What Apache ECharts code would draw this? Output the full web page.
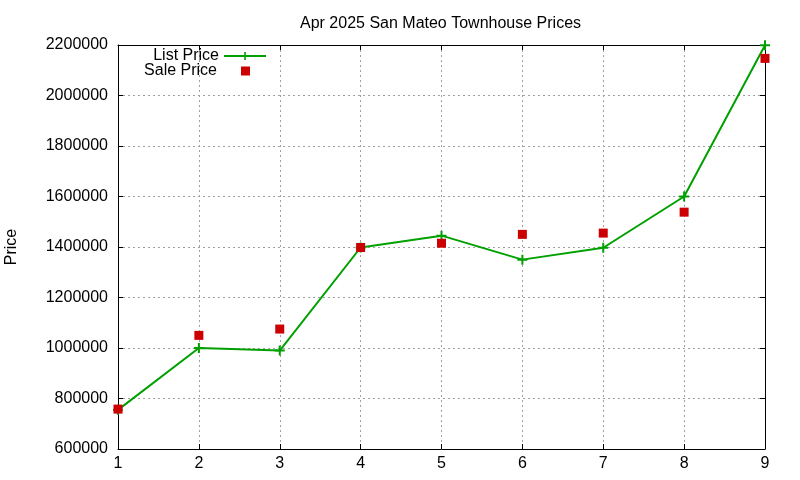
<!DOCTYPE html>
<html>
<head>
<meta charset="utf-8">
<script src="https://cdn.jsdelivr.net/npm/echarts@6/dist/echarts.min.js"></script>
<style>
  html, body { margin: 0; padding: 0; background: #fff; }
  #chart { width: 800px; height: 480px; }
</style>
</head>
<body>
<div id="chart"></div>
<script>
  // data
  var months = [1, 2, 3, 4, 5, 6, 7, 8, 9];
  var listPrice = [755000, 1000000, 990000, 1398000, 1445000, 1350000, 1397000, 1600000, 2199000];
  var salePrice = [758000, 1050000, 1075000, 1398000, 1415000, 1450000, 1455000, 1538000, 2147000];

  var font = 'Liberation Sans';
  var plusIcon = 'path://M4,0H6V4H10V6H6V10H4V6H0V4H4Z';

  function pairs(xs, ys) {
    return xs.map(function (x, i) { return [x, ys[i]]; });
  }

  var chart = echarts.init(document.getElementById('chart'));

  var axisBase = {
    type: 'value',
    axisLine: { show: true, onZero: false, lineStyle: { color: '#000', width: 1 } },
    axisTick: { show: true, inside: true, length: 5, lineStyle: { color: '#000' } }
  };

  var option = {
    animation: false,
    backgroundColor: '#fff',
    textStyle: { fontFamily: font },
    title: {
      text: 'Apr 2025 San Mateo Townhouse Prices',
      left: 295,
      top: 11,
      textStyle: { fontFamily: font, fontSize: 16, fontWeight: 'normal', color: '#000' }
    },
    legend: [{
      data: ['List Price'],
      orient: 'vertical',
      align: 'right',
      right: 533,
      top: 48,
      padding: 0,
      itemWidth: 42,
      itemHeight: 10,
      textStyle: { fontFamily: font, fontSize: 16, color: '#000', lineHeight: 16 }
    }, {
      data: [{ name: 'Sale Price', icon: 'rect' }],
      orient: 'vertical',
      align: 'right',
      right: 550,
      top: 63,
      padding: 0,
      itemWidth: 9,
      itemHeight: 9,
      textStyle: { fontFamily: font, fontSize: 16, color: '#000', lineHeight: 16, padding: [0, 19, 0, 0] }
    }],
    grid: { left: 118, top: 45, width: 647, height: 404, outerBoundsMode: 'none' },
    xAxis: [
      Object.assign({}, axisBase, {
        position: 'bottom',
        min: 1, max: 9, interval: 1,
        axisLabel: { fontFamily: font, fontSize: 16, color: '#000', margin: 7 },
        splitLine: { show: true, lineStyle: { color: '#a0a0a0', type: [2, 3], width: 1 } }
      }),
      Object.assign({}, axisBase, {
        position: 'top',
        min: 1, max: 9, interval: 1,
        axisLabel: { show: false },
        splitLine: { show: false }
      })
    ],
    yAxis: [
      Object.assign({}, axisBase, {
        position: 'left',
        min: 600000, max: 2200000, interval: 200000,
        name: 'Price',
        nameLocation: 'middle',
        nameGap: 98,
        nameRotate: 90,
        nameTextStyle: { fontFamily: font, fontSize: 16, color: '#000' },
        axisLabel: {
          fontFamily: font, fontSize: 16, color: '#000', margin: 10,
          formatter: function (v) { return String(v); }
        },
        splitLine: { show: true, lineStyle: { color: '#a0a0a0', type: [2, 3], width: 1 } }
      }),
      Object.assign({}, axisBase, {
        position: 'right',
        min: 600000, max: 2200000, interval: 200000,
        axisLabel: { show: false },
        splitLine: { show: false }
      })
    ],
    series: [{
      name: 'List Price',
      type: 'line',
      data: pairs(months, listPrice),
      symbol: plusIcon,
      symbolSize: 10,
      showAllSymbol: true,
      clip: false,
      color: '#00a000',
      itemStyle: { color: '#00a000' },
      lineStyle: { color: '#00a000', width: 2 },
      z: 3
    }, {
      name: 'Sale Price',
      type: 'scatter',
      data: pairs(months, salePrice),
      symbol: 'rect',
      symbolSize: 9,
      clip: false,
      color: '#cc0000',
      itemStyle: { color: '#cc0000', opacity: 1 },
      z: 4
    }]
  };

  chart.setOption(option);
</script>
</body>
</html>
